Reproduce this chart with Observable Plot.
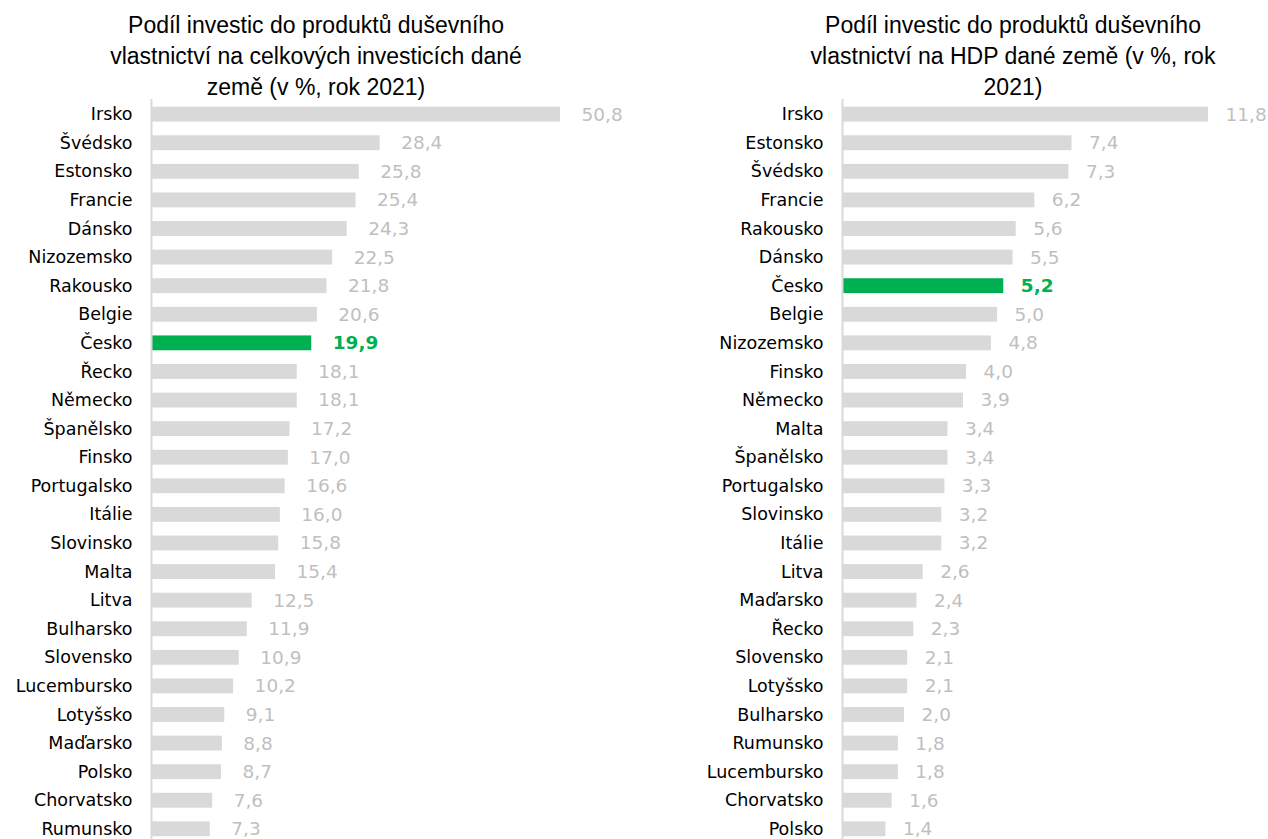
<!DOCTYPE html>
<html>
<head>
<meta charset="utf-8">
<script src="https://cdn.jsdelivr.net/npm/d3@7"></script>
<script src="https://cdn.jsdelivr.net/npm/@observablehq/plot@0.6"></script>
<style>
  html, body { margin: 0; padding: 0; background: #fff; overflow: hidden; width: 1268px; height: 839px; }
  #wrap { position: relative; width: 1268px; height: 839px; }
  .title { position: absolute; z-index: 2; text-align: center; font-family: "Liberation Sans", Arial, sans-serif; font-size: 23px; line-height: 31px; color: #000; }
  .chart { position: absolute; z-index: 1; }
</style>
</head>
<body>
<div id="wrap">
  <div class="title" id="t1" style="left:86px; top:10px; width:460px;">Podíl investic do produktů duševního vlastnictví na celkových investicích dané země (v %, rok 2021)</div>
  <div class="title" id="t2" style="left:780px; top:10px; width:466px;">Podíl investic do produktů duševního vlastnictví na HDP dané země (v %, rok 2021)</div>
  <div class="chart" id="c1" style="left:0px; top:92.6px;"></div>
  <div class="chart" id="c2" style="left:634px; top:92.6px;"></div>
</div>
<script>
// Left panel: share of IP investment in total investment (%), 2021
const leftCountries = ["Irsko","Švédsko","Estonsko","Francie","Dánsko","Nizozemsko","Rakousko","Belgie","Česko","Řecko","Německo","Španělsko","Finsko","Portugalsko","Itálie","Slovinsko","Malta","Litva","Bulharsko","Slovensko","Lucembursko","Lotyšsko","Maďarsko","Polsko","Chorvatsko","Rumunsko"];
const leftValues = [50.8,28.4,25.8,25.4,24.3,22.5,21.8,20.6,19.9,18.1,18.1,17.2,17.0,16.6,16.0,15.8,15.4,12.5,11.9,10.9,10.2,9.1,8.8,8.7,7.6,7.3];

// Right panel: share of IP investment in GDP (%), 2021
const rightCountries = ["Irsko","Estonsko","Švédsko","Francie","Rakousko","Dánsko","Česko","Belgie","Nizozemsko","Finsko","Německo","Malta","Španělsko","Portugalsko","Slovinsko","Itálie","Litva","Maďarsko","Řecko","Slovensko","Lotyšsko","Bulharsko","Rumunsko","Lucembursko","Chorvatsko","Polsko"];
const rightValues = [11.8,7.4,7.3,6.2,5.6,5.5,5.2,5.0,4.8,4.0,3.9,3.4,3.4,3.3,3.2,3.2,2.6,2.4,2.3,2.1,2.1,2.0,1.8,1.8,1.6,1.4];

const highlight = "Česko";
const fmt = v => d3.format(".1f")(v).replace(".", ",");

function panel(countries, values, opts) {
  const data = countries.map((c, i) => ({country: c, value: values[i]}));
  const others = data.filter(d => d.country !== highlight);
  const hlData = data.filter(d => d.country === highlight);
  return Plot.plot({
    width: 634,
    height: 757,
    marginTop: 0,
    marginBottom: 0,
    marginLeft: opts.marginLeft,
    marginRight: opts.marginRight,
    style: {fontFamily: "'DejaVu Sans', sans-serif", fontSize: "18px", background: "transparent", overflow: "visible"},
    x: {domain: [0, d3.max(values)], axis: null},
    y: {domain: countries, padding: 0.48, round: false, label: null},
    marks: [
      Plot.barX(others, {y: "country", x: "value", fill: "#d9d9d9"}),
      Plot.barX(hlData, {y: "country", x: "value", fill: "#00b050"}),
      Plot.ruleX([0], {stroke: "#d9d9d9", strokeWidth: 2, insetTop: 6}),
      Plot.axisY({tickSize: 0, tickPadding: 19, label: null, fill: "#000", fontSize: 17.5}),
      Plot.text(others, {
        y: "country", x: "value", text: d => fmt(d.value),
        dx: opts.dx, textAnchor: "start", fill: "#bfbfbf", fontSize: 18.5
      }),
      Plot.text(hlData, {
        y: "country", x: "value", text: d => fmt(d.value),
        dx: opts.dx, textAnchor: "start", fill: "#00b050", fontWeight: "bold", fontSize: 18.5
      })
    ]
  });
}

document.getElementById("c1").appendChild(panel(leftCountries, leftValues, {marginLeft: 151, marginRight: 74, dx: 21}));
document.getElementById("c2").appendChild(panel(rightCountries, rightValues, {marginLeft: 208, marginRight: 60, dx: 17}));
</script>
</body>
</html>
